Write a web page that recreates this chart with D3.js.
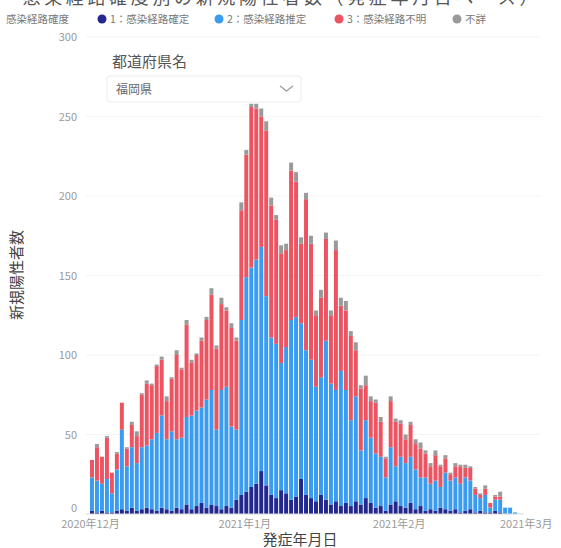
<!DOCTYPE html>
<html lang="ja">
<head>
<meta charset="UTF-8">
<title>新規陽性者数</title>
<script src="https://cdn.jsdelivr.net/npm/d3@7"></script>
<style>
  body { margin: 0; background: #fff; }
  #chart { width: 561px; height: 548px; }
  text { font-family: "Noto Sans CJK JP", "Noto Sans", sans-serif; }
</style>
</head>
<body>
<div id="chart"></div>
<script>
// 発症日 2020-12-01 から 86 日分
const startDay = new Date(2020, 11, 1);
const days = d3.timeDay.range(startDay, new Date(2021, 1, 25));

// 1：感染経路確定
const confirmed = [2,1,2,1,1,2,3,2,4,2,3,4,3,2,4,3,2,4,3,6,3,5,7,4,6,5,3,5,4,9,
  12,14,17,19,27,18,12,10,15,13,9,11,22,12,10,8,12,9,6,8,5,7,5,8,6,10,7,4,5,2,
  6,8,5,4,7,3,5,2,3,2,4,3,2,3,1,2,3,1,2,1,1,2,1,0,0,0];
// 2：感染経路推定
const estimated = [21,20,17,21,12,26,50,28,38,30,39,39,44,49,58,44,50,43,45,55,59,60,60,68,72,48,75,75,51,44,
  110,135,138,141,141,119,99,97,80,92,113,113,98,91,87,72,74,100,76,70,85,71,54,66,34,49,41,34,31,21,
  36,22,31,28,29,25,18,21,16,19,13,23,19,20,18,21,18,11,8,11,3,7,8,4,4,1];
// 3：感染経路不明
const unknownRoute = [11,21,17,26,13,10,17,11,14,17,33,39,34,42,35,24,33,53,43,58,33,35,42,50,60,51,54,48,62,56,
  69,77,101,95,82,104,83,78,69,61,94,85,50,95,73,45,50,64,43,88,41,50,53,29,39,22,23,32,22,12,
  29,28,21,15,20,16,18,15,11,16,13,9,4,7,11,6,8,4,2,4,3,2,2,0,0,0];
// 不詳
const notStated = [0,2,0,1,0,1,0,1,2,3,1,2,1,1,2,3,1,3,1,3,2,1,2,2,4,2,4,2,3,2,
  5,3,2,3,5,6,5,3,5,4,5,6,4,4,5,3,5,4,3,6,5,6,3,5,2,6,3,2,3,1,
  3,2,2,3,2,3,4,2,2,3,1,2,1,2,1,2,1,1,1,2,0,1,3,0,0,0];

const seriesKeys = ["confirmed", "estimated", "unknownRoute", "notStated"];
const seriesNames = ["1：感染経路確定", "2：感染経路推定", "3：感染経路不明", "不詳"];
const seriesColors = ["#23288f", "#3a9cf0", "#ec5462", "#9a9a9a"];
const yTicks = [0, 50, 100, 150, 200, 250, 300];
const monthTicks = [new Date(2020, 11, 1), new Date(2021, 0, 1), new Date(2021, 1, 1), new Date(2021, 2, 1)];
const monthLabels = ["2020年12月", "2021年1月", "2021年2月", "2021年3月"];

let draw = () => {
    let svg = d3.select("#chart").append("svg")
        .attr("width", 561)
        .attr("height", 548);

    let rows = days.map((d, i) => ({
        day: d,
        confirmed: confirmed[i],
        estimated: estimated[i],
        unknownRoute: unknownRoute[i],
        notStated: notStated[i]
    }));
    let stacked = d3.stack().keys(seriesKeys)(rows);

    let x = d3.scaleTime()
        .domain([monthTicks[0], monthTicks[3]])
        .range([90, 538]);
    let y = d3.scaleLinear()
        .domain([0, 300])
        .range([514, 37]);

    // grid
    svg.append("g").selectAll("line")
        .data(yTicks.slice(1))
        .enter().append("line")
        .attr("x1", 86).attr("x2", 540)
        .attr("y1", d => y(d)).attr("y2", d => y(d))
        .attr("stroke", "#f3f3f3");

    // y axis
    let yAxis = d3.axisLeft(y).tickValues(yTicks).tickSize(0).tickPadding(0);
    let gy = svg.append("g")
        .attr("transform", "translate(77,0)")
        .call(yAxis);
    gy.select(".domain").remove();
    gy.selectAll("text")
        .attr("fill", "#9a9a9a")
        .style("font-size", "11px");
    gy.selectAll(".tick").filter(d => d === 0).select("text").attr("dy", "-0.2em");

    // bars
    let dayW = x(d3.timeDay.offset(startDay, 1)) - x(startDay);
    svg.append("g").selectAll("g")
        .data(stacked)
        .enter().append("g")
        .attr("fill", (d, i) => seriesColors[i])
        .selectAll("rect")
        .data(d => d)
        .enter().append("rect")
        .attr("x", d => x(d.data.day))
        .attr("width", dayW - 1)
        .attr("y", d => y(d[1]))
        .attr("height", d => y(d[0]) - y(d[1]));

    // zero line
    svg.append("line")
        .attr("x1", 86).attr("x2", 524)
        .attr("y1", y(0)).attr("y2", y(0))
        .attr("stroke", "#d8d8d8");

    // x axis
    let xAxis = d3.axisBottom(x).tickValues(monthTicks)
        .tickFormat((d, i) => monthLabels[i])
        .tickSize(0).tickPadding(6);
    let gx = svg.append("g")
        .attr("transform", "translate(0," + y(0) + ")")
        .call(xAxis);
    gx.select(".domain").remove();
    gx.selectAll("text")
        .attr("fill", "#9a9a9a")
        .style("font-size", "11px");
    // 右端のラベルは枠内に収める
    gx.selectAll(".tick").filter((d, i) => i === monthTicks.length - 1)
        .select("text").attr("text-anchor", "end").attr("x", 14);

    // axis titles
    svg.append("text")
        .attr("x", 300).attr("y", 545)
        .attr("text-anchor", "middle")
        .attr("fill", "#444")
        .style("font-size", "15px")
        .text("発症年月日");
    svg.append("text")
        .attr("transform", "translate(22,275) rotate(-90)")
        .attr("text-anchor", "middle")
        .attr("fill", "#444")
        .style("font-size", "15px")
        .text("新規陽性者数");

    // title (top cut off)
    svg.append("text")
        .attr("x", 280).attr("y", 4)
        .attr("text-anchor", "middle")
        .attr("fill", "#555")
        .attr("textLength", 515)
        .style("font-size", "18px")
        .text("感染経路確度別の新規陽性者数（発症年月日ベース）");

    // legend
    let legend = svg.append("g").attr("transform", "translate(0,19)");
    legend.append("text")
        .attr("x", 6).attr("y", 4)
        .attr("fill", "#777")
        .style("font-size", "10.5px")
        .text("感染経路確度");
    let legX = [102, 219, 339, 457];
    seriesNames.forEach((name, i) => {
        legend.append("circle")
            .attr("cx", legX[i]).attr("cy", 0).attr("r", 4.5)
            .attr("fill", seriesColors[i]);
        legend.append("text")
            .attr("x", legX[i] + 8).attr("y", 4)
            .attr("fill", "#777")
            .style("font-size", "10.5px")
            .text(name);
    });

    // dropdown
    let dd = svg.append("g");
    dd.append("text")
        .attr("x", 112).attr("y", 67)
        .attr("fill", "#555")
        .style("font-size", "15px")
        .text("都道府県名");
    dd.append("rect")
        .attr("x", 107).attr("y", 76)
        .attr("width", 194).attr("height", 26)
        .attr("rx", 3)
        .attr("fill", "#fff")
        .attr("stroke", "#ececec");
    dd.append("text")
        .attr("x", 116).attr("y", 94)
        .attr("fill", "#666")
        .style("font-size", "12px")
        .text("福岡県");
    dd.append("path")
        .attr("d", "M280,86 L286.5,91 L293,86")
        .attr("fill", "none")
        .attr("stroke", "#999")
        .attr("stroke-width", 1.2);
}

draw();
</script>
</body>
</html>
